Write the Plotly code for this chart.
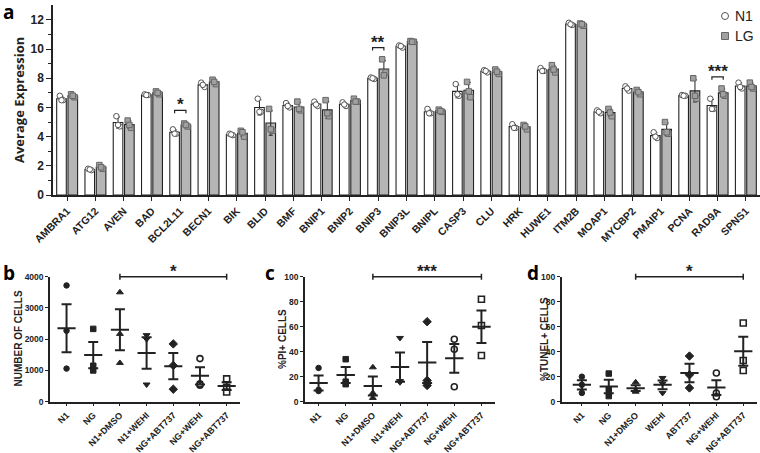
import numpy as np
import plotly.graph_objects as go

# ---------------- data: panel a ----------------
genes = ["AMBRA1", "ATG12", "AVEN", "BAD", "BCL2L11", "BECN1", "BIK", "BLID", "BMF",
         "BNIP1", "BNIP2", "BNIP3", "BNIP3L", "BNIPL", "CASP3", "CLU", "HRK", "HUWE1",
         "ITM2B", "MOAP1", "MYCBP2", "PMAIP1", "PCNA", "RAD9A", "SPNS1"]
n1_reps = [[6.8, 6.5, 6.5], [1.8, 1.7, 1.75], [5.4, 4.7, 4.8], [6.9, 6.85, 6.85],
           [4.5, 4.2, 4.2], [7.7, 7.4, 7.55], [4.2, 4.1, 4.15], [6.6, 5.7, 5.7],
           [6.3, 6.0, 6.1], [6.4, 6.1, 6.2], [6.35, 6.1, 6.2], [8.05, 7.95, 8.0],
           [10.25, 10.1, 10.2], [5.9, 5.6, 5.6], [7.6, 6.8, 6.9], [8.55, 8.4, 8.5],
           [4.85, 4.6, 4.6], [8.7, 8.5, 8.5], [11.8, 11.65, 11.7], [5.8, 5.6, 5.7],
           [7.45, 7.15, 7.3], [4.3, 3.9, 4.0], [6.85, 6.8, 6.8], [6.6, 5.9, 5.9],
           [7.7, 7.3, 7.4]]
lg_reps = [[6.9, 6.7, 6.8], [2.05, 1.8, 1.9], [5.1, 4.6, 4.8], [7.1, 6.9, 7.0],
           [4.9, 4.7, 4.8], [7.9, 7.6, 7.75], [4.4, 4.0, 4.3], [5.9, 4.4, 4.5],
           [6.4, 5.8, 5.9], [6.5, 5.4, 5.6], [6.6, 6.4, 6.4], [9.3, 8.4, 8.2],
           [10.55, 10.5, 10.5], [5.85, 5.7, 5.75], [7.75, 6.7, 7.1], [8.6, 8.3, 8.45],
           [4.8, 4.5, 4.7], [8.9, 8.4, 8.6], [11.75, 11.6, 11.7], [5.9, 5.4, 5.65],
           [7.2, 6.9, 7.05], [5.0, 4.2, 4.3], [8.0, 6.6, 6.8], [7.3, 6.8, 6.9],
           [7.7, 7.3, 7.4]]
sig_genes = ["BCL2L11", "BNIP3", "RAD9A"]
sig_labels = ["*", "**", "***"]
sig_levels = [5.8, 10.1, 8.1]

# ---------------- data: panels b, c, d ----------------
groups_b = ["N1", "NG", "N1+DMSO", "N1+WEHI", "NG+ABT737", "NG+WEHI", "NG+ABT737"]
cells_b = [[3720, 2270, 1060], [2330, 1150, 1000], [3500, 2170, 1240],
           [2130, 2000, 550], [1850, 1160, 400], [1380, 570, 530], [730, 460, 310]]
groups_c = ["N1", "NG", "N1+DMSO", "N1+WEHI", "NG+ABT737", "NG+WEHI", "NG+ABT737"]
pi_c = [[27, 9.5, 8.5], [34, 16, 14], [27.5, 7, 3], [51, 16.5, 15.5],
        [64, 17, 13], [50, 42, 12], [82, 61, 37]]
groups_d = ["N1", "NG", "N1+DMSO", "WEHI", "ABT737", "NG+WEHI", "NG+ABT737"]
tunel_d = [[20, 13.5, 7], [22.5, 9.5, 4.5], [15.5, 9, 8], [19, 14.5, 7],
           [36.5, 21.5, 11], [23, 7, 4], [63, 33, 25]]
sig_bcd = ["*", "***", "*"]
sig_from, sig_to = 2, 6

# ---------------- style ----------------
W, H = 760, 453
INK = "#222222"
FONT = "Liberation Sans, Arial, sans-serif"
BOLD_FONT = "Open Sans, Liberation Sans, sans-serif"


def px(x, y):
    return x / W, 1 - y / H


fig = go.Figure()

# ---------------- panel a ----------------
idx = np.arange(len(genes))
n1 = np.array(n1_reps, dtype=float)
lg = np.array(lg_reps, dtype=float)
jit = np.array([-0.06, 0.06, 0.0])

for reps, off, fill, name in [(n1, -0.37, "white", "N1"), (lg, 0.03, "#b5b5b5", "LG")]:
    fig.add_trace(go.Bar(
        x=idx, y=reps.mean(axis=1), width=0.34, offset=off,
        marker=dict(color=fill, line=dict(color=INK, width=1.1)),
        error_y=dict(type="data", array=reps.std(axis=1, ddof=1), color=INK,
                     thickness=1, width=2),
        showlegend=False, xaxis="x", yaxis="y", name=name))

for reps, ctr, sym, fill, line in [(n1, -0.2, "circle", "white", "#555555"),
                                   (lg, 0.2, "square", "#a0a0a0", "#666666")]:
    xs = (idx[:, None] + ctr + jit[None, :]).ravel()
    fig.add_trace(go.Scatter(
        x=xs, y=reps.ravel(), mode="markers",
        marker=dict(symbol=sym, size=5.5, color=fill, line=dict(color=line, width=1)),
        showlegend=False, xaxis="x", yaxis="y"))

shapes = []
annotations = []
for g, lab, lev in zip(sig_genes, sig_labels, sig_levels):
    i = genes.index(g)
    shapes.append(dict(type="path", xref="x", yref="y",
                       path=f"M {i-0.2},{lev-0.2} L {i-0.2},{lev} L {i+0.2},{lev} L {i+0.2},{lev-0.2}",
                       line=dict(color=INK, width=1.2)))
    annotations.append(dict(x=i, y=lev, xref="x", yref="y", text=lab, showarrow=False,
                            xanchor="center", yanchor="bottom", yshift=-6,
                            font=dict(family=FONT, size=17, color=INK, weight="bold")))

# legend (panel a)
r = 3.5
shapes.append(dict(type="circle", xref="paper", yref="paper",
                   x0=(725 - r) / W, x1=(725 + r) / W, y0=1 - (16 + r) / H, y1=1 - (16 - r) / H,
                   line=dict(color="#555555", width=1), fillcolor="white"))
shapes.append(dict(type="rect", xref="paper", yref="paper",
                   x0=(725 - r) / W, x1=(725 + r) / W, y0=1 - (36 + r) / H, y1=1 - (36 - r) / H,
                   line=dict(color="#666666", width=1), fillcolor="#a0a0a0"))
for t, yy in [("N1", 16), ("LG", 36)]:
    xx, yp = px(733, yy)
    annotations.append(dict(x=xx, y=yp, xref="paper", yref="paper", text=t, showarrow=False,
                            xanchor="left", yanchor="middle",
                            font=dict(family=FONT, size=14, color=INK)))

# ---------------- panels b, c, d ----------------
symbols = [("circle", 1.0), ("square", 1.0), ("triangle-up", 1.0), ("triangle-down", 1.0),
           ("diamond", 1.0), ("circle-open", 1.6), ("square-open", 1.6)]
sizes = [5.5, 5.5, 6, 6, 6.5, 6, 6]

panels = [
    ("x2", "y2", groups_b, cells_b, [-0.62, 6.5], [0, 4000], 1000, "NUMBER OF CELLS", 17.5, sig_bcd[0]),
    ("x3", "y3", groups_c, pi_c, [-0.5, 6.5], [0, 100], 20, "%PI+ CELLS", 282, sig_bcd[1]),
    ("x4", "y4", groups_d, tunel_d, [-0.75, 6.5], [0, 100], 20, "%TUNEL+ CELLS", 544, sig_bcd[2]),
]
for xa, ya, groups, vals, xr, yr, dt, title, tx, star in panels:
    for i, v in enumerate(vals):
        sym, lw = symbols[i]
        fig.add_trace(go.Scatter(
            x=[i] * len(v), y=v, mode="markers",
            marker=dict(symbol=sym, size=sizes[i], color=INK, line=dict(color=INK, width=lw)),
            showlegend=False, xaxis=xa, yaxis=ya))
        arr = np.array(v, dtype=float)
        sem = arr.std(ddof=1) / np.sqrt(len(arr))
        fig.add_trace(go.Scatter(
            x=[i], y=[arr.mean()], mode="markers",
            marker=dict(size=1, color="rgba(0,0,0,0)"),
            error_x=dict(type="constant", value=0.34, color=INK, thickness=2, width=0),
            error_y=dict(type="constant", value=sem, color=INK, thickness=2, width=5),
            showlegend=False, xaxis=xa, yaxis=ya))
    fx0 = (sig_from - xr[0]) / (xr[1] - xr[0])
    fx1 = (sig_to - xr[0]) / (xr[1] - xr[0])
    d = 3 / 125
    shapes.append(dict(type="path", xref=f"{xa} domain", yref=f"{ya} domain",
                       path=f"M {fx0},1 L {fx1},1 M {fx0},{1-d} L {fx0},{1+d} M {fx1},{1-d} L {fx1},{1+d}",
                       line=dict(color=INK, width=1.5)))
    annotations.append(dict(x=(fx0 + fx1) / 2, y=1, xref=f"{xa} domain", yref=f"{ya} domain",
                            text=star, showarrow=False, xanchor="center", yanchor="bottom",
                            yshift=-6,
                            font=dict(family=FONT, size=17, color=INK, weight="bold")))
    xp, yp = px(tx, 339)
    annotations.append(dict(x=xp, y=yp, xref="paper", yref="paper", text=title,
                            showarrow=False, textangle=-90, xanchor="center", yanchor="middle",
                            font=dict(family=FONT, size=10, color=INK, weight="bold")))

xp, yp = px(19, 100)
annotations.append(dict(x=xp, y=yp, xref="paper", yref="paper", text="Average Expression",
                        showarrow=False, textangle=-90, xanchor="center", yanchor="middle",
                        font=dict(family=BOLD_FONT, size=13, color=INK, weight="bold")))

for t, x0, y0 in [("a", 1, -3), ("b", 1, 258), ("c", 263, 258), ("d", 525, 258)]:
    xp, yp = px(x0, y0)
    annotations.append(dict(x=xp, y=yp, xref="paper", yref="paper", text=t, showarrow=False,
                            xanchor="left", yanchor="top",
                            font=dict(family=BOLD_FONT, size=19, color="black", weight="bold")))

axis_common = dict(showline=True, linecolor=INK, linewidth=1.5, ticks="outside",
                   tickcolor=INK, tickwidth=1.2, showgrid=False, zeroline=False,
                   automargin=False)

ya_bot, ya_top = 1 - 195 / H, 1 - 5.3 / H
yb_bot, yb_top = 1 - 401.7 / H, 1 - 276.7 / H
xfont = dict(family=FONT, size=9, weight="bold")
yfont = dict(family=FONT, size=8.5, weight="bold")

fig.update_layout(
    template="none",
    width=W, height=H, autosize=False,
    margin=dict(l=0, r=0, t=0, b=0, pad=0),
    paper_bgcolor="white", plot_bgcolor="white",
    barmode="overlay", showlegend=False,
    font=dict(family=FONT, color=INK),
    xaxis=dict(domain=[53 / W, 1.0], anchor="y", range=[-0.5, 24.5],
               tickmode="array", tickvals=list(idx), ticktext=genes, tickangle=-45,
               ticklen=4, tickfont=dict(family=FONT, size=10.5, weight="bold"), **axis_common),
    yaxis=dict(domain=[ya_bot, ya_top], anchor="x", range=[0, 13],
               tickmode="array", tickvals=[0, 2, 4, 6, 8, 10, 12], ticklen=5,
               minor=dict(ticks="outside", tickmode="array", tickvals=[1, 3, 5, 7, 9, 11],
                          ticklen=3, tickcolor=INK, tickwidth=1.2),
               tickfont=dict(family=FONT, size=12, weight="bold"), **axis_common),
    xaxis2=dict(domain=[50 / W, 240 / W], anchor="y2", range=panels[0][4],
                tickmode="array", tickvals=list(range(7)), ticktext=groups_b, tickangle=-45,
                ticklen=3, tickfont=xfont, **axis_common),
    yaxis2=dict(domain=[yb_bot, yb_top], anchor="x2", range=[0, 4000], dtick=1000, ticklen=3,
                tickfont=yfont, **axis_common),
    xaxis3=dict(domain=[305 / W, 495 / W], anchor="y3", range=panels[1][4],
                tickmode="array", tickvals=list(range(7)), ticktext=groups_c, tickangle=-45,
                ticklen=3, tickfont=xfont, **axis_common),
    yaxis3=dict(domain=[yb_bot, yb_top], anchor="x3", range=[0, 100], dtick=20, ticklen=3,
                tickfont=yfont, **axis_common),
    xaxis4=dict(domain=[561.7 / W, 756.7 / W], anchor="y4", range=panels[2][4],
                tickmode="array", tickvals=list(range(7)), ticktext=groups_d, tickangle=-45,
                ticklen=3, tickfont=xfont, **axis_common),
    yaxis4=dict(domain=[yb_bot, yb_top], anchor="x4", range=[0, 100], dtick=20, ticklen=3,
                tickfont=yfont, **axis_common),
    shapes=shapes, annotations=annotations,
)

fig.write_html("out.html", config={"displayModeBar": False},
               post_script="document.body.style.margin='0';document.body.style.overflow='hidden';")
